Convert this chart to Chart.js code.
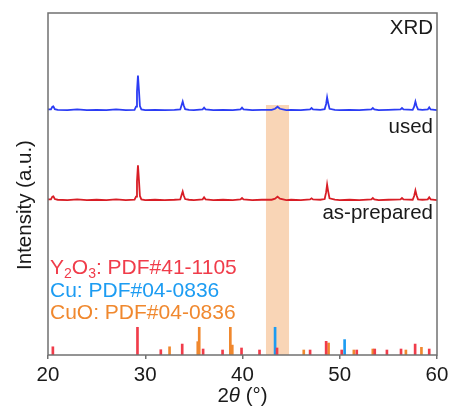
<!DOCTYPE html>
<html>
<head>
<meta charset="utf-8">
<script src="https://cdn.jsdelivr.net/npm/chart.js@4/dist/chart.umd.min.js"></script>
<style>
  html, body { margin: 0; padding: 0; background: #fff; }
  #wrap { width: 453px; height: 407px; }
</style>
</head>
<body>
<div id="wrap"><canvas id="myChart" width="453" height="407"></canvas></div>
<script>
// 2theta sample points shared by both measured patterns
const angles = [20, 20.3, 20.45, 20.55, 20.7, 21, 22, 23, 24, 25, 26, 27, 28, 28.9, 29.05, 29.15, 29.25, 29.35, 29.45, 29.6,
  30, 31, 32, 33, 33.6, 33.75, 33.85, 33.95, 34.1, 34.5, 35, 35.9, 36.05, 36.2, 37, 38, 39, 39.8, 39.95, 40.1,
  41, 42, 43, 43.35, 43.6, 43.85, 44.5, 45, 46, 46.95, 47.1, 47.25, 48, 48.45, 48.6, 48.7, 48.8, 48.95, 49.5, 50,
  51, 52, 53.25, 53.4, 53.55, 54, 55, 56.25, 56.4, 56.55, 57.5, 57.65, 57.78, 57.9, 58.05, 58.5, 59.05, 59.2, 59.35, 60];

const usedCounts = [71.8, 71.8, 72.6, 72.7, 71.9, 71.7, 71.6, 71.8, 71.6, 71.7, 71.6, 71.8, 71.6, 71.7, 72.6, 77.0, 81.7, 77.5, 72.8, 71.8,
  71.6, 71.7, 71.6, 71.7, 71.8, 73.2, 74.1, 73.0, 71.9, 71.7, 71.6, 71.8, 72.3, 71.8, 71.6, 71.7, 71.6, 71.8, 72.3, 71.8,
  71.6, 71.7, 71.7, 72.0, 72.6, 72.0, 71.6, 71.7, 71.6, 71.8, 72.2, 71.8, 71.7, 71.9, 73.4, 75.3, 73.8, 72.0, 71.7, 71.6,
  71.7, 71.6, 71.8, 72.2, 71.8, 71.6, 71.7, 71.8, 72.2, 71.8, 71.7, 72.6, 74.1, 72.8, 71.8, 71.7, 71.8, 72.4, 71.8, 71.6];

const preparedCounts = [45.5, 45.5, 46.3, 46.4, 45.6, 45.4, 45.3, 45.5, 45.3, 45.4, 45.3, 45.5, 45.3, 45.4, 46.3, 50.7, 55.5, 51.2, 46.5, 45.5,
  45.3, 45.4, 45.3, 45.4, 45.5, 46.9, 47.8, 46.7, 45.6, 45.4, 45.3, 45.5, 46.1, 45.5, 45.3, 45.4, 45.3, 45.5, 45.9, 45.5,
  45.3, 45.4, 45.4, 45.7, 46.3, 45.7, 45.3, 45.4, 45.3, 45.5, 45.8, 45.5, 45.4, 45.6, 47.6, 49.8, 48.0, 45.8, 45.4, 45.3,
  45.4, 45.3, 45.5, 45.9, 45.5, 45.3, 45.4, 45.5, 45.9, 45.5, 45.4, 46.5, 48.1, 46.7, 45.5, 45.4, 45.5, 46.1, 45.5, 45.3];

// reference patterns (stick positions and heights)
const y2o3Pos = [20.5, 29.2, 31.6, 33.8, 35.95, 37.95, 39.9, 41.75, 43.55, 46.95, 48.6, 50.2, 51.75, 53.6, 54.85, 56.3, 57.75, 59.2];
const y2o3Int = [2.4, 8.1, 1.55, 3.2, 1.75, 1.46, 2.05, 1.46, 2.05, 1.46, 4.0, 1.46, 1.46, 1.75, 1.46, 1.75, 3.2, 1.75];
const cuPos = [43.35, 50.5];
const cuInt = [8.1, 4.5];
const cuoPos = [32.5, 35.4, 35.55, 38.75, 38.95, 46.3, 48.85, 51.45, 53.4, 56.8, 58.4];
const cuoInt = [2.4, 3.9, 8.1, 8.1, 2.9, 1.46, 3.5, 1.46, 1.75, 1.46, 2.25];

// highlighted Cu(111) region
const bandRange = [42.4, 44.8];
const bandTop = 73.1;

const FONT = 'Liberation Sans, Arial, sans-serif';
Chart.defaults.font.family = FONT;

const pts = (xs, ys) => xs.map((x, i) => ({ x: x, y: ys[i] }));

const sticks = (label, xs, ys, color) => ({
  type: 'bar',
  label: label,
  data: pts(xs, ys),
  backgroundColor: color,
  borderWidth: 0,
  barThickness: 2,
  grouped: false,
  order: 2
});

// texts, frame and the axis titles
const decor = {
  id: 'decor',
  afterDatasetsDraw(chart) {
    const { ctx, chartArea: a } = chart;
    ctx.save();
    ctx.strokeStyle = '#707070';
    ctx.lineWidth = 1.5;
    ctx.strokeRect(a.left, a.top, a.right - a.left, a.bottom - a.top);

    ctx.fillStyle = '#1a1a1a';
    ctx.font = '20.5px ' + FONT;
    ctx.textAlign = 'right';
    ctx.textBaseline = 'middle';
    ctx.fillText('XRD', a.right - 4, a.top + 15);
    ctx.fillText('used', a.right - 4, a.top + 114);
    ctx.fillText('as-prepared', a.right - 4, a.top + 200);

    // y axis title
    ctx.save();
    ctx.translate(25, 205);
    ctx.rotate(-Math.PI / 2);
    ctx.textAlign = 'center';
    ctx.font = '20.5px ' + FONT;
    ctx.fillText('Intensity (a.u.)', 0, 0);
    ctx.restore();

    // legend of reference cards, with subscripts
    const rich = (parts, x, y, color) => {
      ctx.fillStyle = color;
      ctx.textAlign = 'left';
      parts.forEach(p => {
        if (p[1]) {
          ctx.font = '14px ' + FONT;
          ctx.fillText(p[0], x, y + 6);
        } else {
          ctx.font = '21px ' + FONT;
          ctx.fillText(p[0], x, y);
        }
        x += ctx.measureText(p[0]).width;
      });
    };
    rich([['Y'], ['2', 1], ['O'], ['3', 1], [': PDF#41-1105']], a.left + 2, a.top + 255, '#f03c4a');
    rich([['Cu: PDF#04-0836']], a.left + 2, a.top + 278, '#1c9cf2');
    rich([['CuO: PDF#04-0836']], a.left + 2, a.top + 300, '#f0882e');

    // x axis title: 2θ (°) with italic theta
    const parts = [['2', ''], ['\u03b8', 'italic '], [' (\u00b0)', '']];
    let w = 0;
    parts.forEach(p => { ctx.font = p[1] + '20.5px ' + FONT; w += ctx.measureText(p[0]).width; });
    let x = (a.left + a.right) / 2 - w / 2;
    ctx.fillStyle = '#1a1a1a';
    ctx.textAlign = 'left';
    parts.forEach(p => {
      ctx.font = p[1] + '20.5px ' + FONT;
      ctx.fillText(p[0], x, 396);
      x += ctx.measureText(p[0]).width;
    });
    ctx.restore();
  }
};

const ctx = document.getElementById('myChart');

new Chart(ctx, {
  type: 'line',
  data: {
    datasets: [
      {
        label: 'used',
        data: pts(angles, usedCounts),
        borderColor: '#2b3cf4',
        borderWidth: 1.8,
        pointRadius: 0,
        tension: 0,
        order: 1
      },
      {
        label: 'as-prepared',
        data: pts(angles, preparedCounts),
        borderColor: '#d81d25',
        borderWidth: 1.8,
        pointRadius: 0,
        tension: 0,
        order: 1
      },
      sticks('Y2O3', y2o3Pos, y2o3Int, '#f03c4a'),
      sticks('CuO', cuoPos, cuoInt, '#f0882e'),
      sticks('Cu', cuPos, cuInt, '#1c9cf2'),
      {
        label: 'band',
        data: pts(bandRange, [bandTop, bandTop]),
        borderWidth: 0,
        pointRadius: 0,
        backgroundColor: '#f9d5b6',
        fill: 'origin',
        order: 5
      }
    ]
  },
  plugins: [decor],
  options: {
    responsive: false,
    animation: false,
    layout: { padding: { top: 13, right: 16, left: 0, bottom: 0 } },
    scales: {
      x: {
        type: 'linear',
        min: 20,
        max: 60,
        offset: false,
        ticks: { stepSize: 10, font: { size: 20.5 }, color: '#1a1a1a', padding: 4 },
        grid: { drawOnChartArea: false, drawTicks: true, tickLength: 4, color: '#707070', lineWidth: 1.5, offset: false },
        border: { display: false },
        afterFit: s => { s.height = 52; }
      },
      y: {
        min: 0,
        max: 100,
        ticks: { display: false },
        grid: { display: false },
        border: { display: false },
        afterFit: s => { s.width = 48; }
      }
    },
    plugins: {
      legend: { display: false },
      tooltip: { enabled: false }
    }
  }
});
</script>
</body>
</html>
